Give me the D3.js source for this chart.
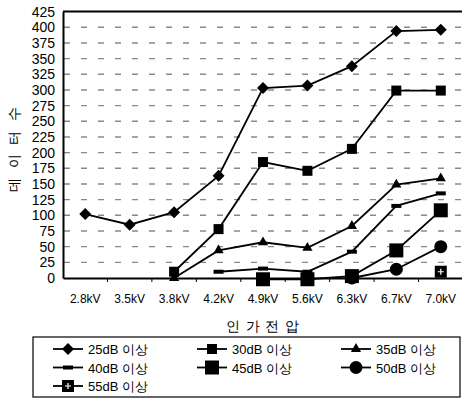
<!DOCTYPE html>
<html>
<head>
<meta charset="utf-8">
<script src="https://cdn.jsdelivr.net/npm/d3@7"></script>
<style>
  body { margin: 0; background: #fff; }
  svg { display: block; font-family: "Liberation Sans", Arial, sans-serif; }
</style>
</head>
<body>
<div id="chart"></div>
<script>
// catégories (tension appliquée)
const categories = ["2.8kV", "3.5kV", "3.8kV", "4.2kV", "4.9kV", "5.6kV", "6.3kV", "6.7kV", "7.0kV"];
const yTicks = [0, 25, 50, 75, 100, 125, 150, 175, 200, 225, 250, 275, 300, 325, 350, 375, 400, 425];

// séries (null = pas de point)
const s25 = [102, 85, 105, 163, 303, 307, 338, 394, 396];
const s30 = [null, null, 10, 78, 185, 171, 206, 299, 299];
const s35 = [null, null, 0, 44, 57, 48, 83, 149, 159];
const s40 = [null, null, null, 10, 15, 10, 42, 115, 135];
const s45 = [null, null, null, null, -2, -2, 3, 44, 108];
const s50 = [null, null, null, null, null, null, 0, 14, 50];
const s55 = [null, null, null, null, null, null, null, null, 10];

const seriesNames = ["25dB 이상", "30dB 이상", "35dB 이상", "40dB 이상", "45dB 이상", "50dB 이상", "55dB 이상"];
const seriesValues = [s25, s30, s35, s40, s45, s50, s55];
const markers = ["diamond", "square", "triangle", "dash", "bigsquare", "circle", "plus"];

const W = 462, H = 400;
const svg = d3.select("#chart").append("svg").attr("width", W).attr("height", H);

const x = d3.scaleBand().domain(categories).range([63, 463]);
const y = d3.scaleLinear().domain([0, 425]).range([278, 11.6]);
const cx = d => x(d) + x.bandwidth() / 2;

// grille pointillée
svg.append("g")
  .selectAll("line")
  .data(yTicks.filter(v => v > 0 && v < 425))
  .join("line")
    .attr("x1", 64).attr("x2", W)
    .attr("y1", d => y(d)).attr("y2", d => y(d))
    .attr("stroke", "#888").attr("stroke-width", 1.4)
    .attr("stroke-dasharray", "6,11");

// bord supérieur
svg.append("line")
  .attr("x1", 63).attr("x2", W).attr("y1", y(425)).attr("y2", y(425))
  .attr("stroke", "#000").attr("stroke-width", 2);

// axe Y
const yAxis = svg.append("g")
  .attr("transform", "translate(63,0)")
  .call(d3.axisLeft(y).tickValues(yTicks).tickSize(0).tickPadding(8));
yAxis.select(".domain").attr("stroke-width", 2);
yAxis.selectAll("text").attr("font-size", 14).attr("fill", "#000");

// axe X
const xAxis = svg.append("g")
  .attr("transform", `translate(0,${y(0)})`)
  .call(d3.axisBottom(x).tickSize(0).tickPadding(16));
xAxis.select(".domain").attr("stroke-width", 2);
xAxis.selectAll("text").attr("font-size", 12).attr("fill", "#000");
// petites graduations aux limites de bandes
svg.append("g")
  .selectAll("line")
  .data(categories.slice(1))
  .join("line")
    .attr("x1", d => x(d)).attr("x2", d => x(d))
    .attr("y1", y(0)).attr("y2", y(0) + 4)
    .attr("stroke", "#000").attr("stroke-width", 1);

// titres des axes
svg.append("text")
  .attr("x", 263).attr("y", 331)
  .attr("text-anchor", "middle").attr("font-size", 14)
  .attr("letter-spacing", 1)
  .text("인 가 전 압");
svg.append("text")
  .attr("transform", "translate(19,148) rotate(-90)")
  .attr("text-anchor", "middle").attr("font-size", 14)
  .attr("letter-spacing", 3)
  .text("데 이 터 수");

// marqueurs
function drawMarker(g, type, px, py) {
  const sym = d3.symbol();
  if (type === "diamond") {
    g.append("path")
      .attr("d", `M${px},${py - 6}L${px + 6},${py}L${px},${py + 6}L${px - 6},${py}Z`);
  } else if (type === "square") {
    g.append("rect").attr("x", px - 5).attr("y", py - 5).attr("width", 10).attr("height", 10);
  } else if (type === "triangle") {
    g.append("path").attr("transform", `translate(${px},${py})`)
      .attr("d", sym.type(d3.symbolTriangle).size(45)());
  } else if (type === "dash") {
    g.append("rect").attr("x", px - 5).attr("y", py - 2).attr("width", 10).attr("height", 4);
  } else if (type === "bigsquare") {
    g.append("rect").attr("x", px - 7).attr("y", py - 7).attr("width", 14).attr("height", 14);
  } else if (type === "circle") {
    g.append("circle").attr("cx", px).attr("cy", py).attr("r", 6.5);
  } else if (type === "plus") {
    g.append("rect").attr("x", px - 6).attr("y", py - 6).attr("width", 12).attr("height", 12);
    g.append("path").attr("d", `M${px - 3},${py}H${px + 3}M${px},${py - 3}V${py + 3}`)
      .attr("stroke", "#fff").attr("stroke-width", 1.2);
  }
}

const line = d3.line()
  .defined(d => d.v != null)
  .x(d => cx(d.c))
  .y(d => y(d.v));

seriesValues.forEach((vals, i) => {
  const pts = categories.map((c, j) => ({ c, v: vals[j] }));
  svg.append("path")
    .datum(pts)
    .attr("fill", "none").attr("stroke", "#000").attr("stroke-width", 1.8)
    .attr("d", line);
  const g = svg.append("g").attr("fill", "#000");
  pts.filter(p => p.v != null).forEach(p => drawMarker(g, markers[i], cx(p.c), y(p.v)));
});

// légende
const leg = svg.append("g");
leg.append("rect")
  .attr("x", 33).attr("y", 337).attr("width", 427).attr("height", 60)
  .attr("fill", "none").attr("stroke", "#000").attr("stroke-width", 1.2);
seriesNames.forEach((name, i) => {
  const col = i % 3, row = Math.floor(i / 3);
  const lx = 53 + col * 144, ly = 349 + row * 18.5;
  leg.append("line").attr("x1", lx).attr("x2", lx + 30).attr("y1", ly).attr("y2", ly)
    .attr("stroke", "#000").attr("stroke-width", 1.8);
  const g = leg.append("g").attr("fill", "#000");
  drawMarker(g, markers[i], lx + 15, ly);
  leg.append("text").attr("x", lx + 35).attr("y", ly + 5)
    .attr("font-size", 13).text(name);
});
</script>
</body>
</html>
